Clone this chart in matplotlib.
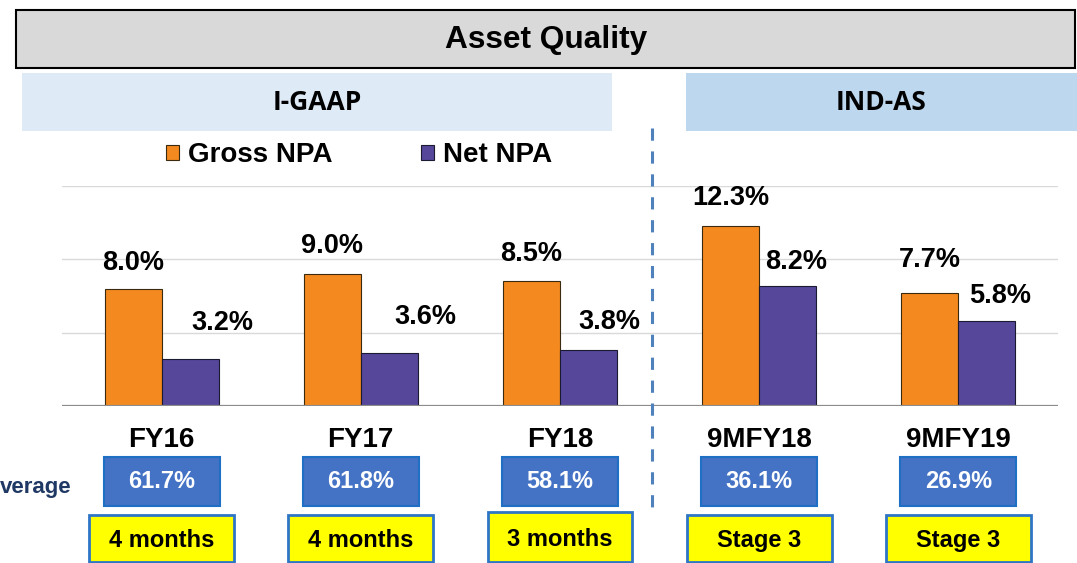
import matplotlib
matplotlib.use("Agg")
import matplotlib.pyplot as plt
from matplotlib.patches import Rectangle, Patch
from matplotlib.lines import Line2D
import matplotlib.transforms as mtransforms

# ---------------- data ----------------
categories = ["FY16", "FY17", "FY18", "9MFY18", "9MFY19"]
gross_npa = [8.0, 9.0, 8.5, 12.3, 7.7]
net_npa = [3.2, 3.6, 3.8, 8.2, 5.8]
coverage = ["61.7%", "61.8%", "58.1%", "36.1%", "26.9%"]
recognition = ["4 months", "4 months", "3 months", "Stage 3", "Stage 3"]
series_names = ["Gross NPA", "Net NPA"]
section_names = ["I-GAAP", "IND-AS"]
title = "Asset Quality"
row_label = "verage"

# ---------------- style ----------------
W, H = 1077, 563
ORANGE = "#F4891F"
PURPLE = "#56479B"
FONT = "Liberation Sans"
plt.rcParams["font.family"] = [FONT, "DejaVu Sans"]

fig = plt.figure(figsize=(W / 100, H / 100), dpi=100)


def fx(px):
    return px / W


def fy(py):
    return 1 - py / H


# axes area
ax_left, ax_right, ax_top, ax_bot = 62, 1058, 186, 406
ax = fig.add_axes([fx(ax_left), fy(ax_bot), fx(ax_right - ax_left), (ax_bot - ax_top) / H])
ax.set_xlim(-0.5, len(categories) - 0.5)
ax.set_ylim(0, 15)
for s in ax.spines.values():
    s.set_visible(False)
ax.set_xticks([])
ax.set_yticks([])
for g in [5, 10, 15]:
    ax.axhline(g, color="#D9D9D9", lw=1.0, zorder=0)
ax.axhline(0, color="#8C8C8C", lw=1.6, zorder=3)

bw = 0.286
xs = list(range(len(categories)))
ax.bar([x - bw / 2 for x in xs], gross_npa, width=bw, color=ORANGE,
       edgecolor="#3a2a10", lw=0.8, zorder=2)
ax.bar([x + bw / 2 for x in xs], net_npa, width=bw, color=PURPLE,
       edgecolor="#1a1a30", lw=0.8, zorder=2)

# value labels (offsets in pixels, styling only)
gross_dy = [26, 28, 27, 28, 33]
net_dx = [32, 36, 21, 8, 13]
net_dy = [36, 36, 28, 24, 25]
for i, x in enumerate(xs):
    ax.annotate(f"{gross_npa[i]:.1f}%", (x - bw / 2, gross_npa[i]),
                xytext=(0, gross_dy[i] * 0.72), textcoords="offset points",
                ha="center", va="center", fontsize=19.5, fontweight="bold",
                annotation_clip=False)
    ax.annotate(f"{net_npa[i]:.1f}%", (x + bw / 2, net_npa[i]),
                xytext=(net_dx[i] * 0.72, net_dy[i] * 0.72), textcoords="offset points",
                ha="center", va="center", fontsize=19.5, fontweight="bold",
                annotation_clip=False)

# category labels and boxes below the axis
blend = mtransforms.blended_transform_factory(ax.transData, fig.transFigure)
blue_w = 0.582
yel_w = 0.726
for i, x in enumerate(xs):
    fig.text(x, fy(440), categories[i], transform=blend, ha="center", va="center",
             fontsize=20, fontweight="bold")
    fig.patches.append(Rectangle((x - blue_w / 2, fy(506)), blue_w, (506 - 457) / H,
                                 transform=blend, facecolor="#4472C4",
                                 edgecolor="#1F6FC5", lw=1.5, figure=fig))
    fig.text(x, fy(482), coverage[i], transform=blend, ha="center", va="center",
             fontsize=17, fontweight="bold", color="white")
    ytop = 512 if i == 2 else 515
    fig.patches.append(Rectangle((x - yel_w / 2, fy(562)), yel_w, (562 - ytop) / H,
                                 transform=blend, facecolor="#FFFF00",
                                 edgecolor="#2E75C6", lw=2.0, figure=fig))
    fig.text(x, fy((ytop + 562) / 2 + 2), recognition[i], transform=blend, ha="center",
             va="center", fontsize=17, fontweight="bold", color="black")

fig.text(fx(72), fy(488), row_label, ha="right", va="center", fontsize=16,
         fontweight="bold", color="#1F3864")

# title box
fig.patches.append(Rectangle((fx(16), fy(68)), fx(1059), (68 - 10) / H,
                             transform=fig.transFigure, facecolor="#D9D9D9",
                             edgecolor="black", lw=1.5, figure=fig))
fig.text(fx(546), fy(40), title, ha="center", va="center", fontsize=22.8,
         fontweight="bold")

# section boxes
fig.patches.append(Rectangle((fx(22), fy(131)), fx(612 - 22), (131 - 73) / H,
                             transform=fig.transFigure, facecolor="#DEEAF6",
                             edgecolor="none", figure=fig))
fig.text(fx(317), fy(103), section_names[0], ha="center", va="center", fontsize=19,
         fontweight="bold", family=["Open Sans", "DejaVu Sans"])
fig.patches.append(Rectangle((fx(686), fy(131)), fx(1077 - 686), (131 - 73) / H,
                             transform=fig.transFigure, facecolor="#BDD7EE",
                             edgecolor="none", figure=fig))
fig.text(fx(881), fy(103), section_names[1], ha="center", va="center", fontsize=19,
         fontweight="bold", family=["Open Sans", "DejaVu Sans"])

# dashed divider
fig.lines.append(Line2D([fx(652), fx(652)], [fy(128), fy(510)],
                        transform=fig.transFigure, color="#4F81BD", lw=2.2,
                        linestyle=(0, (4, 3.5)), figure=fig))

# legend
handles = [Patch(facecolor=ORANGE, edgecolor="#3a2a10", lw=0.8),
           Patch(facecolor=PURPLE, edgecolor="#1a1a30", lw=0.8)]
fig.legend(handles, series_names, loc="center", bbox_to_anchor=(fx(359), fy(155)),
           ncol=2, frameon=False, prop={"weight": "bold", "size": 20},
           handlelength=0.45, handleheight=0.45, handletextpad=0.32,
           columnspacing=3.2)

fig.savefig("out.png", dpi=100, facecolor="white")
